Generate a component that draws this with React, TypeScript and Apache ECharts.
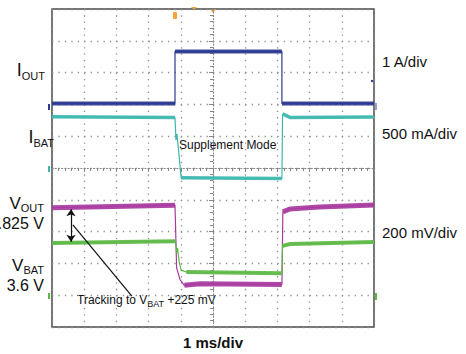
import React, { useEffect, useRef } from "react";
import * as echarts from "echarts";

// Time in ms relative to the screen centre (1 ms/div); values in divisions relative to the screen centre.
const IOUT_T = [-5, -1.18, -1.18, 2.14, 2.14, 5];
const IOUT_V = [2.03, 2.03, 3.66, 3.66, 2.03, 2.03];

const IBAT_T = [-5, -1.18, -1.15, -1.12, -1.07, -0.99, 2.14, 2.16, 2.39, 5];
const IBAT_V = [1.61, 1.59, 0.88, 1.07, 0.57, -0.31, -0.33, 1.7, 1.59, 1.6];

const VOUT_T = [-5, -1.18, -1.16, -1.13, -1.02, -0.89, -0.4, 2.14, 2.17, 2.39, 3.3, 5];
const VOUT_V = [-1.25, -1.17, -1.17, -3.14, -3.52, -3.69, -3.64, -3.66, -1.38, -1.29, -1.23, -1.16];

const VBAT_T = [-5, -1.18, -1.16, -1.13, -1.1, -1.05, -0.99, -0.83, 2.14, 2.16, 2.39, 5];
const VBAT_V = [-2.36, -2.3, -2.36, -2.67, -2.52, -2.96, -3.21, -3.27, -3.31, -2.45, -2.39, -2.33];

// Annotation arrow (VOUT to VBAT gap) and leader line, in the same units
const GAP_T = [-4.41, -4.41];
const GAP_V = [-1.3, -2.32];
const LEADER_T = [-4.35, -2.52];
const LEADER_V = [-1.79, -4.03];

const COLORS = {
  iout: "#2B3A92",
  ibat: "#3DB8AF",
  vout: "#A8399F",
  vbat: "#5DB946",
};

const FONT = "'Liberation Sans', Arial, Helvetica, sans-serif";

function fullPath(t: number[], v: number[]) {
  return t.map((x, i) => [x, v[i]]);
}

function flatParts(t: number[], v: number[]) {
  const out: any[] = [];
  let last = -1;
  for (let i = 0; i < t.length - 1; i++) {
    if (t[i + 1] - t[i] >= 0.2) {
      if (last !== i) {
        if (out.length) out.push([t[i], null]);
        out.push([t[i], v[i]]);
      }
      out.push([t[i + 1], v[i + 1]]);
      last = i + 1;
    }
  }
  return out;
}

function traceSeries(name: string, t: number[], v: number[], color: string, width: number, extra: any = {}) {
  return [
    {
      name: name + "-thin",
      type: "line",
      data: fullPath(t, v),
      showSymbol: false,
      symbol: "none",
      lineStyle: { color, width: 1.2 },
      silent: true,
      z: 3,
      ...extra,
    },
    {
      name: name + "-band",
      type: "line",
      data: flatParts(t, v),
      connectNulls: false,
      showSymbol: false,
      symbol: "none",
      lineStyle: { color, width, opacity: 0.92 },
      silent: true,
      z: 4,
    },
  ];
}

function label(text: string, x: number, y: number, align: string, rich: any, extra: any = {}) {
  return {
    type: "text",
    x,
    y,
    silent: true,
    style: {
      text,
      align,
      textAlign: align,
      verticalAlign: "middle",
      textVerticalAlign: "middle",
      fill: "#111",
      font: `15px ${FONT}`,
      rich,
      ...extra,
    },
  };
}

const subRich = (main: number, sub: number) => ({
  m: { fontSize: main, fontFamily: FONT, lineHeight: main + 4, color: "#111" },
  s: { fontSize: sub, fontFamily: FONT, lineHeight: sub, verticalAlign: "bottom", color: "#111" },
});

export default function App() {
  const ref = useRef<HTMLDivElement>(null);

  useEffect(() => {
    if (!ref.current) return;
    const chart = echarts.init(ref.current, undefined, { renderer: "svg" });

    const dotColor = "#8f8f8f";
    const centreColor = "#858585";

    const axisCommon = {
      type: "value",
      min: -5,
      max: 5,
      interval: 1,
      axisLabel: { show: false },
      axisLine: { show: true, onZero: true, lineStyle: { color: centreColor, width: 1, type: [1.2, 2] } },
      axisTick: { show: true, inside: false, length: 4, lineStyle: { color: centreColor, width: 1 } },
      minorTick: { show: true, splitNumber: 5, length: 3, lineStyle: { color: centreColor, width: 1 } },
    };

    const option: any = {
      animation: false,
      backgroundColor: "#ffffff",
      grid: {
        left: 52,
        top: 9,
        right: 92,
        bottom: 27,
        show: true,
        borderColor: "#4a4a4a",
        borderWidth: 1.5,
        backgroundColor: "transparent",
      },
      xAxis: {
        ...axisCommon,
        splitLine: { show: true, lineStyle: { color: dotColor, width: 1.3, type: [1.3, 5.06] } },
      },
      yAxis: {
        ...axisCommon,
        splitLine: { show: true, lineStyle: { color: dotColor, width: 1.3, type: [1.3, 5.14] } },
      },
      series: [
        ...traceSeries("IOUT", IOUT_T, IOUT_V, COLORS.iout, 4),
        ...traceSeries("IBAT", IBAT_T, IBAT_V, COLORS.ibat, 3.5),
        ...traceSeries("VOUT", VOUT_T, VOUT_V, COLORS.vout, 5),
        ...traceSeries("VBAT", VBAT_T, VBAT_V, COLORS.vbat, 4, {
          markLine: {
            silent: true,
            animation: false,
            label: { show: false },
            emphasis: { disabled: true },
            lineStyle: { color: "#111", width: 1.2, type: "solid" },
            data: [
              [
                { coord: [GAP_T[0], GAP_V[0]], symbol: "arrow", symbolSize: 7 },
                { coord: [GAP_T[1], GAP_V[1]], symbol: "arrow", symbolSize: 7 },
              ],
              [
                { coord: [LEADER_T[0], LEADER_V[0]], symbol: "none" },
                { coord: [LEADER_T[1], LEADER_V[1]], symbol: "none" },
              ],
            ],
          },
        }),
      ],
      graphic: [
        // channel / trigger markers
        { type: "rect", shape: { x: 173, y: 12, width: 4, height: 7, r: 1 }, style: { fill: "#F4A340" }, silent: true },
        { type: "polygon", shape: { points: [[191, 7], [197, 7], [194, 10]] }, style: { fill: "#F4A340" }, silent: true },
        { type: "polygon", shape: { points: [[210, 9], [216, 9], [213, 13]] }, style: { fill: "#F4A340" }, silent: true },
        { type: "rect", shape: { x: 48, y: 104, width: 2, height: 6 }, style: { fill: COLORS.iout }, silent: true },
        { type: "rect", shape: { x: 48, y: 166, width: 2, height: 6 }, style: { fill: COLORS.ibat }, silent: true },
        { type: "rect", shape: { x: 48, y: 293, width: 2, height: 6 }, style: { fill: COLORS.vbat }, silent: true },
        { type: "rect", shape: { x: 375, y: 103, width: 2, height: 7 }, style: { fill: "#9aa0c8" }, silent: true },
        { type: "rect", shape: { x: 375, y: 293, width: 2, height: 7 }, style: { fill: COLORS.vbat }, silent: true },
        { type: "circle", shape: { cx: 372, cy: 81, r: 1.2 }, style: { fill: COLORS.iout }, silent: true },

        // left labels
        label("{m|I}{s|OUT}", 45, 70, "right", subRich(18, 11)),
        label("{m|I}{s|BAT}", 54, 137, "right", subRich(18, 11)),
        label("{m|V}{s|OUT}", 44, 203, "right", subRich(17, 11)),
        label("3.825 V", 44, 223, "right", undefined, { font: `16px ${FONT}` }),
        label("{m|V}{s|BAT}", 44, 265, "right", subRich(17, 11)),
        label("3.6 V", 44, 285, "right", undefined, { font: `16px ${FONT}` }),

        // right labels
        label("1 A/div", 382, 61, "left", undefined),
        label("500 mA/div", 382, 133, "left", undefined),
        label("200 mV/div", 382, 232, "left", undefined),

        // annotations
        label("Supplement Mode", 179, 145, "left", undefined, { font: `12px ${FONT}` }),
        label("{m|Tracking to V}{s|BAT}{m| +225 mV}", 77, 300, "left", subRich(12, 9)),
        label("1 ms/div", 213, 342, "center", undefined, { font: `bold 15px ${FONT}` }),
      ],
    };

    chart.setOption(option);
    return () => chart.dispose();
  }, []);

  return (
    <div
      ref={ref}
      style={{ position: "fixed", left: 0, top: 0, width: 466, height: 354, background: "#fff" }}
    />
  );
}
